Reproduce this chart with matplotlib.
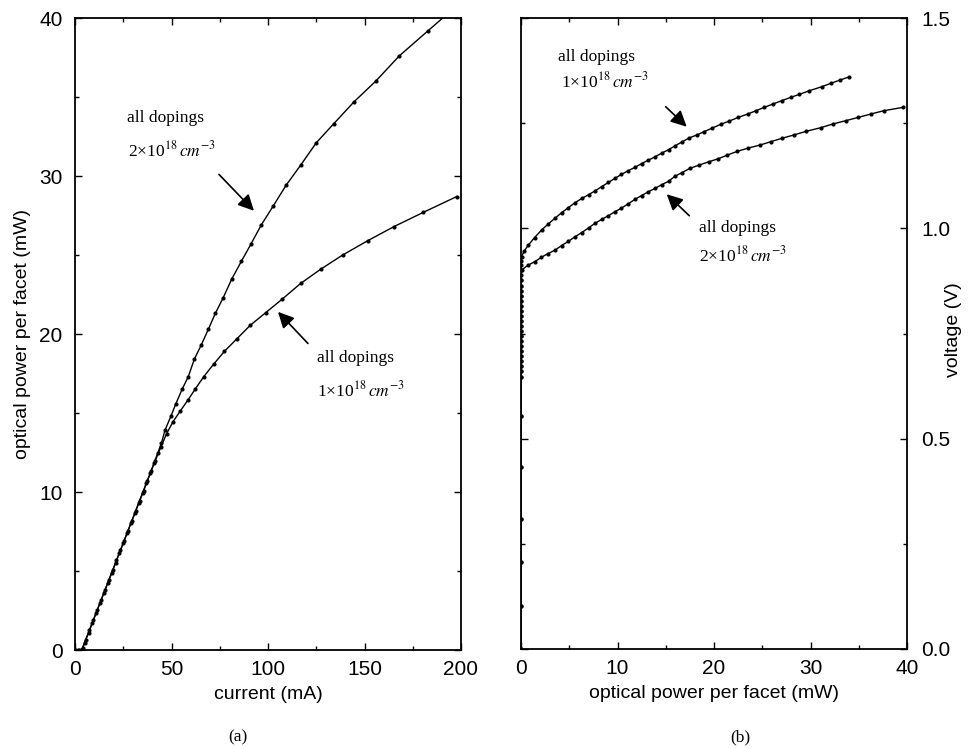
import matplotlib
matplotlib.use("Agg")
import matplotlib.pyplot as plt
from matplotlib.ticker import MultipleLocator

plt.rcParams['font.family'] = ['Liberation Sans', 'DejaVu Sans']
plt.rcParams['mathtext.fontset'] = 'stix'

# ---------------- Panel (a): optical power vs current ----------------
cur_2e18 = [0, 1.5, 3, 3.5, 5, 7, 9, 11, 13, 15, 17, 19, 21, 23, 25, 27, 29, 31, 33, 35,
            37, 39, 41, 43, 44.8, 46.6, 49.7, 52.3, 55.5, 58.7, 61.8, 65.4, 69.1, 72.7,
            76.8, 81.3, 86.2, 91.2, 96.5, 102.7, 109.3, 117, 125, 134, 144.6, 155.8,
            168, 183, 199]
pow_2e18 = [0, 0, 0, 0, 0.47, 1.1, 1.73, 2.36, 2.99, 3.62, 4.25, 4.88, 5.51, 6.14, 6.77,
            7.4, 8.03, 8.66, 9.3, 9.93, 10.57, 11.2, 11.85, 12.5, 13.1, 13.9, 14.8, 15.6,
            16.5, 17.3, 18.4, 19.3, 20.3, 21.3, 22.3, 23.5, 24.6, 25.7, 26.9, 28.1, 29.4,
            30.7, 32.1, 33.3, 34.7, 36.0, 37.6, 39.2, 40.9]

cur_1e18 = [0, 2, 3.5, 4, 5.5, 7.5, 9.5, 11.5, 13.5, 15.5, 17.5, 19.5, 21.5, 23.5, 25.5,
            27.5, 29.5, 31.5, 33.5, 35.5, 37.5, 39.5, 41.5, 44.5, 47.5, 50.8, 54.4, 58.4,
            62.2, 66.7, 71.9, 77.4, 83.9, 90.8, 98.8, 107.3, 116.9, 127.3, 138.7, 151.6,
            165.3, 180.5, 197.8]
pow_1e18 = [0, 0, 0, 0.15, 0.63, 1.26, 1.89, 2.52, 3.15, 3.78, 4.41, 5.04, 5.67, 6.3,
            6.93, 7.56, 8.19, 8.82, 9.45, 10.07, 10.7, 11.33, 11.95, 12.85, 13.7, 14.45,
            15.1, 15.8, 16.5, 17.3, 18.1, 18.9, 19.7, 20.55, 21.35, 22.2, 23.2, 24.1,
            25.0, 25.9, 26.8, 27.7, 28.7]

# ---------------- Panel (b): voltage vs optical power ----------------
pb_1e18 = [0, 0, 0, 0, 0, 0, 0, 0, 0, 0, 0, 0, 0, 0, 0, 0, 0, 0, 0, 0, 0, 0, 0, 0, 0,
           0, 0, 0.01, 0.02, 0.03,
           0.07, 0.3, 0.76, 1.4, 2.14, 2.8, 3.52, 4.2, 4.9, 5.6, 6.3, 7.0, 7.67, 8.35,
           9.05, 9.74, 10.4, 11.1, 11.81, 12.5, 13.2, 13.89, 14.6, 15.3, 15.96, 16.65,
           17.41, 18.21, 18.96, 19.83, 20.69, 21.59, 22.52, 23.49, 24.35, 25.21, 26.11,
           27.01, 27.95, 28.84, 29.88, 31.16, 32.09, 33.06, 34.0]
vb_1e18 = [0.0, 0.103, 0.207, 0.31, 0.432, 0.554, 0.647, 0.66, 0.672, 0.684, 0.696,
           0.708, 0.72, 0.732, 0.744, 0.756, 0.768, 0.78, 0.792, 0.804, 0.816, 0.828,
           0.84, 0.852, 0.864, 0.876, 0.888, 0.9, 0.912, 0.922,
           0.933, 0.945, 0.960, 0.978, 0.996, 1.010, 1.024, 1.037, 1.049, 1.061, 1.071,
           1.080, 1.089, 1.099, 1.109, 1.119, 1.128, 1.137, 1.145, 1.154, 1.162, 1.170,
           1.179, 1.187, 1.196, 1.205, 1.2147, 1.2218, 1.2297, 1.2384, 1.2472, 1.2551,
           1.2638, 1.2717, 1.2796, 1.2876, 1.2955, 1.3034, 1.3113, 1.3184, 1.3271,
           1.3366, 1.3446, 1.3525, 1.360]

pb_2e18 = [0, 0, 0, 0, 0, 0, 0, 0, 0, 0, 0, 0, 0, 0, 0, 0, 0, 0, 0, 0, 0, 0, 0, 0, 0.01,
           0.02,
           0.07, 0.7, 1.45, 2.1, 2.8, 3.52, 4.2, 4.9, 5.6, 6.3, 7.0, 7.67, 8.35, 9.05,
           9.74, 10.4, 11.1, 11.81, 12.5, 13.2, 13.89, 14.6, 15.3, 15.96, 16.65, 17.51,
           18.48, 19.48, 20.45, 21.38, 22.42, 23.56, 24.77, 25.88, 27.01, 28.26, 29.53,
           31.05, 32.30, 33.64, 34.96, 36.24, 37.6, 39.6]
vb_2e18 = [0.0, 0.103, 0.207, 0.31, 0.432, 0.554, 0.647, 0.66, 0.672, 0.684, 0.696,
           0.708, 0.72, 0.732, 0.744, 0.756, 0.768, 0.78, 0.792, 0.804, 0.816, 0.828,
           0.84, 0.852, 0.864, 0.877,
           0.901, 0.912, 0.921, 0.931, 0.940, 0.948, 0.959, 0.969, 0.980, 0.990, 1.001,
           1.012, 1.021, 1.030, 1.0395, 1.048, 1.058, 1.069, 1.078, 1.087, 1.095, 1.104,
           1.112, 1.124, 1.132, 1.1426, 1.1505, 1.1584, 1.1655, 1.1742, 1.1830, 1.1909,
           1.1980, 1.2059, 1.2139, 1.2218, 1.2305, 1.2392, 1.2479, 1.2558, 1.2638,
           1.2717, 1.2796, 1.2876]

fig = plt.figure(figsize=(9.69, 7.48), dpi=100)
axa = fig.add_axes([75/969, 1-650/748, 386/969, 632/748])
axb = fig.add_axes([521/969, 1-649/748, 386/969, 631/748])

line_kw = dict(color='black', lw=1.0, marker='o', markersize=3.0, markeredgewidth=0)

axa.plot(cur_2e18, pow_2e18, **line_kw)
axa.plot(cur_1e18, pow_1e18, **line_kw)
axb.plot(pb_1e18, vb_1e18, **line_kw)
axb.plot(pb_2e18, vb_2e18, **line_kw)

for ax in (axa, axb):
    for s in ax.spines.values():
        s.set_linewidth(1.3)
    ax.tick_params(which='both', direction='in', top=True, bottom=True, left=True,
                   right=True, width=1.0, labelsize=15)
    ax.tick_params(which='major', length=5)
    ax.tick_params(which='minor', length=3)

axa.set_xlim(0, 200)
axa.set_ylim(0, 40)
axa.xaxis.set_major_locator(MultipleLocator(50))
axa.xaxis.set_minor_locator(MultipleLocator(25))
axa.yaxis.set_major_locator(MultipleLocator(10))
axa.yaxis.set_minor_locator(MultipleLocator(5))
axa.tick_params(axis='x', pad=7)
axa.tick_params(axis='y', pad=9)
axa.set_xlabel('current (mA)', fontsize=14, labelpad=5)
axa.set_ylabel('optical power per facet (mW)', fontsize=14, labelpad=6)

axb.set_xlim(0, 40)
axb.set_ylim(0, 1.5)
axb.xaxis.set_major_locator(MultipleLocator(10))
axb.xaxis.set_minor_locator(MultipleLocator(5))
axb.yaxis.set_major_locator(MultipleLocator(0.5))
axb.yaxis.set_minor_locator(MultipleLocator(0.25))
axb.yaxis.set_major_formatter(matplotlib.ticker.FormatStrFormatter('%.1f'))
axb.tick_params(axis='y', labelleft=False, labelright=True, pad=10)
axb.tick_params(axis='x', pad=7)
axb.set_xlabel('optical power per facet (mW)', fontsize=14, labelpad=5)
fig.text(954/969, 1-330/748, 'voltage (V)', fontsize=14, rotation=90,
         ha='center', va='center')

serif = ['Liberation Serif', 'DejaVu Serif']
tkw = dict(fontsize=12.5, family=serif, ha='left', va='center')
arr = dict(arrowstyle='-|>', color='black', lw=1.2, mutation_scale=24,
           shrinkA=0, shrinkB=0)

# panel (a) annotations
axa.text(27, 33.7, 'all dopings', **tkw)
axa.text(27.5, 31.6, '2×10$^{18}$$\\,cm^{-3}$', **tkw)
axa.annotate('', xy=(92.7, 27.8), xytext=(74.6, 30.1), arrowprops=arr)
axa.text(125.4, 18.5, 'all dopings', **tkw)
axa.text(125.4, 16.4, '1×10$^{18}$$\\,cm^{-3}$', **tkw)
axa.annotate('', xy=(105.2, 21.4), xytext=(120.7, 19.4), arrowprops=arr)

# panel (b) annotations
axb.text(3.8, 1.407, 'all dopings', **tkw)
axb.text(4.1, 1.35, '1×10$^{18}$$\\,cm^{-3}$', **tkw)
axb.annotate('', xy=(17.17, 1.2415), xytext=(15.0, 1.289), arrowprops=arr)
axb.text(18.4, 1.0, 'all dopings', **tkw)
axb.text(18.4, 0.935, '2×10$^{18}$$\\,cm^{-3}$', **tkw)
axb.annotate('', xy=(15.1, 1.081), xytext=(17.44, 1.030), arrowprops=arr)

fig.text(238/969, 1-737/748, '(a)', fontsize=12.5, family=serif, ha='center', va='center')
fig.text(740/969, 1-737/748, '(b)', fontsize=12.5, family=serif, ha='center', va='center')

fig.savefig('out.png', dpi=100)
